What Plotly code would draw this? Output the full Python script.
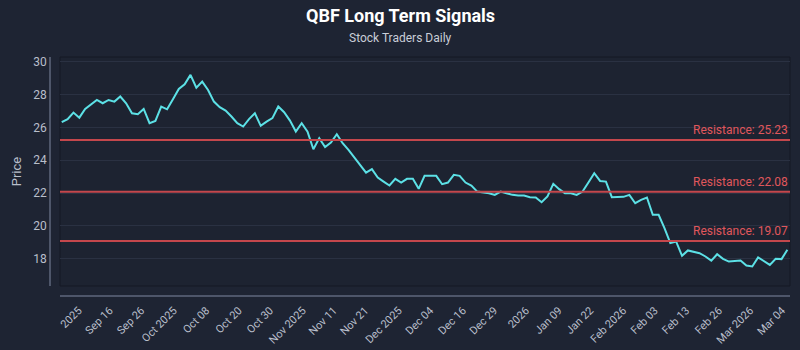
import plotly.graph_objects as go

# Daily closing prices
prices = [
    26.32, 26.51, 26.91, 26.60, 27.13, 27.38, 27.68, 27.48, 27.68, 27.58,
    27.89, 27.48, 26.87, 26.81, 27.13, 26.26, 26.40, 27.28, 27.11, 27.72,
    28.35, 28.64, 29.21, 28.43, 28.80, 28.29, 27.58, 27.24, 27.03, 26.67,
    26.26, 26.06, 26.51, 26.87, 26.10, 26.36, 26.57, 27.28, 26.93, 26.42,
    25.75, 26.26, 25.75, 24.67, 25.35, 24.80, 25.08, 25.59, 25.04, 24.63,
    24.19, 23.72, 23.25, 23.46, 22.95, 22.70, 22.46, 22.87, 22.64, 22.87,
    22.87, 22.26, 23.05, 23.05, 23.05, 22.54, 22.64, 23.11, 23.05, 22.64,
    22.46, 22.09, 22.05, 21.99, 21.89, 22.09, 21.99, 21.89, 21.85, 21.85,
    21.75, 21.73, 21.44, 21.80, 22.56, 22.24, 21.99, 21.99, 21.89, 22.09,
    22.64, 23.21, 22.74, 22.70, 21.75, 21.77, 21.77, 21.89, 21.38, 21.59,
    21.73, 20.67, 20.67, 19.86, 18.95, 19.04, 18.17, 18.50, 18.43, 18.33,
    18.13, 17.88, 18.27, 17.99, 17.82, 17.87, 17.88, 17.58, 17.52, 18.07,
    17.82, 17.62, 17.99, 17.97, 18.54,
]

# Resistance levels
resistance_levels = [25.23, 22.08, 19.07]

# Date labels along the bottom axis and where they sit in the series
tick_labels = [
    "2025", "Sep 16", "Sep 26", "Oct 2025", "Oct 08", "Oct 20", "Oct 30",
    "Nov 2025", "Nov 11", "Nov 21", "Dec 2025", "Dec 04", "Dec 16", "Dec 29",
    "2026", "Jan 09", "Jan 22", "Feb 2026", "Feb 03", "Feb 13", "Feb 26",
    "Mar 2026", "Mar 04",
]
tick_index = [
    2.9, 8.2, 13.6, 19.15, 24.7, 30.25, 35.6, 41.2, 46.5, 51.85, 57.6,
    62.95, 68.55, 73.9, 79.35, 84.95, 90.3, 95.95, 101.35, 106.7, 112.3,
    117.65, 123.1,
]

y_ticks = [18, 20, 22, 24, 26, 28, 30]

x = list(range(len(prices)))

W, H = 800, 350
ml, mr, mt, mb = 50, 10, 57, 54
gap = 10
plot_w = W - ml - mr
plot_h = H - mt - mb
center_x = (W / 2 - ml) / plot_w

paper_bg = "#1e2433"
axis_grey = "#4e566a"
grid_grey = "#2a3142"
text_grey = "#b9bfcb"
font_family = "Roboto, 'Open Sans', sans-serif"

fig = go.Figure()

fig.add_trace(go.Scatter(
    x=x, y=prices, mode="lines",
    line=dict(color="#5ce1e6", width=2),
    showlegend=False,
))

for lvl in resistance_levels:
    fig.add_shape(
        type="line", xref="x domain", yref="y",
        x0=0, x1=1, y0=lvl, y1=lvl,
        line=dict(color="#c4474c", width=2),
    )
    fig.add_annotation(
        xref="x domain", yref="y", x=1, y=lvl,
        xanchor="right", yanchor="bottom", yshift=1,
        text=f"Resistance: {lvl:.2f}", showarrow=False,
        font=dict(family=font_family, size=12, color="#e0575c"),
    )

# Thin dark frame round the plotting area
fig.add_shape(
    type="rect", xref="x domain", yref="y domain",
    x0=0, x1=1, y0=0, y1=1,
    line=dict(color="#141925", width=1), layer="below",
)

fig.add_annotation(
    xref="paper", yref="paper", x=center_x,
    y=1 + (mt - 15) / plot_h, xanchor="center", yanchor="middle",
    text="<b>QBF Long Term Signals</b>", showarrow=False,
    font=dict(family=font_family, size=18, color="#ffffff"),
)
fig.add_annotation(
    xref="paper", yref="paper", x=center_x,
    y=1 + (mt - 38) / plot_h, xanchor="center", yanchor="middle",
    text="Stock Traders Daily", showarrow=False,
    font=dict(family=font_family, size=12, color="#c9ced8"),
)

fig.update_layout(
    width=W, height=H,
    margin=dict(l=ml, r=mr, t=mt, b=mb, autoexpand=False),
    paper_bgcolor=paper_bg,
    plot_bgcolor="#1d2331",
    font=dict(family=font_family, color=text_grey),
    xaxis=dict(
        domain=[gap / plot_w, 1], anchor="free", position=0,
        range=[-0.3, 124.45],
        tickmode="array", tickvals=tick_index, ticktext=tick_labels,
        tickangle=-45, tickfont=dict(size=11, color=text_grey),
        ticklabelstandoff=3, automargin=False,
        showgrid=False, zeroline=False,
        showline=True, linecolor=axis_grey, linewidth=1.5,
        ticks="", fixedrange=True,
    ),
    yaxis=dict(
        domain=[gap / plot_h, 1], anchor="free", position=0,
        range=[16.33, 30.3], automargin=False,
        tickmode="array", tickvals=y_ticks,
        tickfont=dict(size=12, color=text_grey),
        showgrid=True, gridcolor=grid_grey, gridwidth=1,
        zeroline=False,
        showline=True, linecolor=axis_grey, linewidth=1.5,
        ticks="",
        title=dict(text="Price", font=dict(size=13, color=text_grey), standoff=8),
    ),
)

fig.write_html("out.html")
